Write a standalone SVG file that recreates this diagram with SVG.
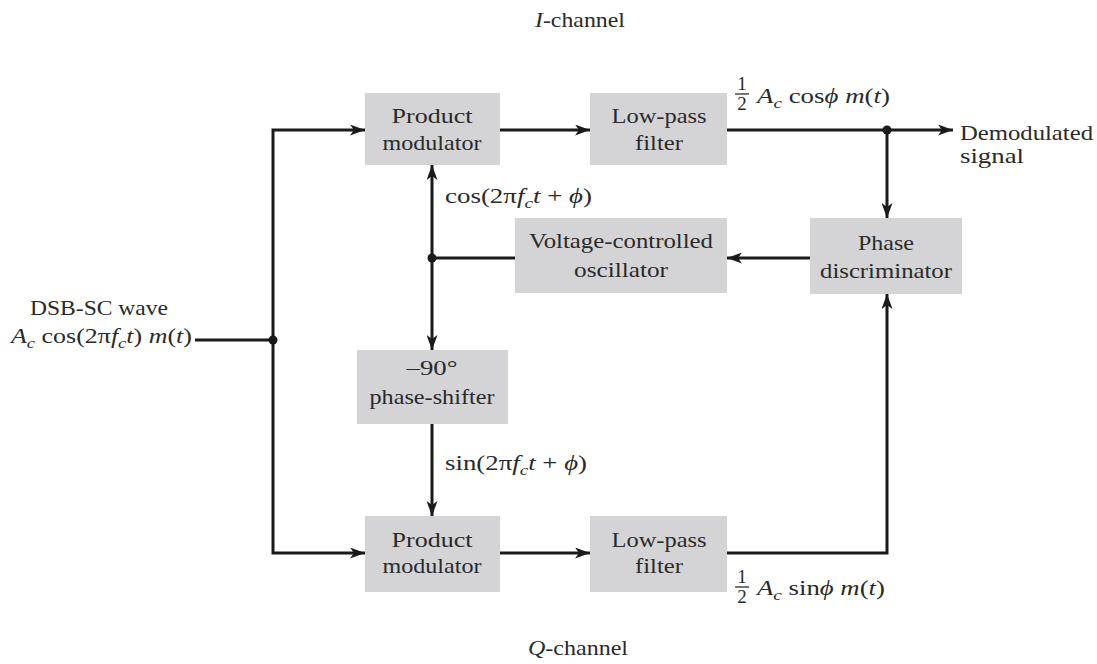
<svg xmlns="http://www.w3.org/2000/svg" width="1097" height="664" viewBox="0 0 1097 664">
<style>
  .box { fill: #d4d4d6; stroke: none; }
  .t { font-family: "Times New Roman", "Liberation Serif", Tinos, Times, serif; font-size: 21px; fill: #2a2a2a; }
  .c { text-anchor: middle; }
  .i { font-style: italic; }
  .sub { font-size: 15px; font-style: italic; }
  .frac { font-family: "Times New Roman", "Liberation Serif", Tinos, Times, serif; font-size: 19px; fill: #2a2a2a; text-anchor: middle; }
  .wire { fill: none; stroke: #1a1a1a; stroke-width: 3; }
  .arrow { marker-end: url(#ah); }
  .dot { fill: #1a1a1a; }
</style>
<defs>
  <marker id="ah" viewBox="0 0 15 11" refX="15" refY="5.5" markerWidth="15" markerHeight="11" markerUnits="userSpaceOnUse" orient="auto">
    <path d="M0,0 L15,5.5 L0,11 L4,5.5 z" fill="#1a1a1a"/>
  </marker>
</defs>
<rect width="1097" height="664" fill="#ffffff"/>

<g id="connectors">
  <path class="wire" d="M195,340 H273"/>
  <path class="wire arrow" d="M273,340 V130 H365"/>
  <path class="wire arrow" d="M273,340 V553 H365"/>
  <path class="wire arrow" d="M500,130 H590"/>
  <path class="wire arrow" d="M727,130 H953"/>
  <path class="wire arrow" d="M887,130 V218"/>
  <path class="wire arrow" d="M810,258 H727"/>
  <path class="wire" d="M515,258 H432"/>
  <path class="wire arrow" d="M432,258 V165"/>
  <path class="wire arrow" d="M432,258 V350"/>
  <path class="wire arrow" d="M432,424 V516"/>
  <path class="wire arrow" d="M500,553 H590"/>
  <path class="wire arrow" d="M727,553 H887 V294"/>
  <circle class="dot" cx="273" cy="340" r="4.5"/>
  <circle class="dot" cx="432" cy="258" r="4.5"/>
  <circle class="dot" cx="887" cy="130" r="4.5"/>
</g>

<g id="pm_top">
  <rect class="box" x="365" y="93" width="135" height="72"/>
  <text class="t c" x="432" y="123" textLength="81" lengthAdjust="spacingAndGlyphs">Product</text>
  <text class="t c" x="432" y="150" textLength="99" lengthAdjust="spacingAndGlyphs">modulator</text>
</g>
<g id="lpf_top">
  <rect class="box" x="590" y="93" width="137" height="72"/>
  <text class="t c" x="659" y="123" textLength="95" lengthAdjust="spacingAndGlyphs">Low-pass</text>
  <text class="t c" x="659" y="150" textLength="48" lengthAdjust="spacingAndGlyphs">filter</text>
</g>
<g id="phase_disc">
  <rect class="box" x="810" y="218" width="152" height="76"/>
  <text class="t c" x="886" y="250" textLength="56" lengthAdjust="spacingAndGlyphs">Phase</text>
  <text class="t c" x="886" y="278" textLength="132" lengthAdjust="spacingAndGlyphs">discriminator</text>
</g>
<g id="vco">
  <rect class="box" x="515" y="218" width="212" height="75"/>
  <text class="t c" x="621" y="248" textLength="184" lengthAdjust="spacingAndGlyphs">Voltage-controlled</text>
  <text class="t c" x="621" y="277" textLength="94" lengthAdjust="spacingAndGlyphs">oscillator</text>
</g>
<g id="phase_shifter">
  <rect class="box" x="357" y="350" width="151" height="74"/>
  <text class="t c" x="432" y="375" textLength="51" lengthAdjust="spacingAndGlyphs">–90°</text>
  <text class="t c" x="432" y="404" textLength="125" lengthAdjust="spacingAndGlyphs">phase-shifter</text>
</g>
<g id="pm_bottom">
  <rect class="box" x="365" y="516" width="135" height="76"/>
  <text class="t c" x="432" y="547" textLength="81" lengthAdjust="spacingAndGlyphs">Product</text>
  <text class="t c" x="432" y="573" textLength="99" lengthAdjust="spacingAndGlyphs">modulator</text>
</g>
<g id="lpf_bottom">
  <rect class="box" x="590" y="516" width="137" height="76"/>
  <text class="t c" x="659" y="547" textLength="95" lengthAdjust="spacingAndGlyphs">Low-pass</text>
  <text class="t c" x="659" y="573" textLength="48" lengthAdjust="spacingAndGlyphs">filter</text>
</g>

<g id="labels">
  <text class="t" x="535" y="27" textLength="90" lengthAdjust="spacingAndGlyphs"><tspan class="i">I</tspan>-channel</text>
  <text class="t" x="528" y="655" textLength="100" lengthAdjust="spacingAndGlyphs"><tspan class="i">Q</tspan>-channel</text>

  <text class="t c" x="99" y="315" textLength="138" lengthAdjust="spacingAndGlyphs">DSB-SC wave</text>
  <text class="t" x="11" y="343" textLength="181" lengthAdjust="spacingAndGlyphs"><tspan class="i">A</tspan><tspan class="sub" dy="5">c</tspan><tspan dy="-5"> cos(2π</tspan><tspan class="i">f</tspan><tspan class="sub" dy="5">c</tspan><tspan class="i" dy="-5">t</tspan>) <tspan class="i">m</tspan>(<tspan class="i">t</tspan>)</text>

  <text class="t" x="445" y="203" textLength="147" lengthAdjust="spacingAndGlyphs">cos(2π<tspan class="i">f</tspan><tspan class="sub" dy="5">c</tspan><tspan class="i" dy="-5">t</tspan> + <tspan class="i">ϕ</tspan>)</text>
  <text class="t" x="445" y="470" textLength="142" lengthAdjust="spacingAndGlyphs">sin(2π<tspan class="i">f</tspan><tspan class="sub" dy="5">c</tspan><tspan class="i" dy="-5">t</tspan> + <tspan class="i">ϕ</tspan>)</text>

  <text class="frac" x="742" y="90">1</text>
  <line x1="735" y1="94" x2="749" y2="94" stroke="#2a2a2a" stroke-width="1.3"/>
  <text class="frac" x="742" y="110">2</text>
  <text class="t" x="757" y="103" textLength="133" lengthAdjust="spacingAndGlyphs"><tspan class="i">A</tspan><tspan class="sub" dy="5">c</tspan><tspan dy="-5"> cos</tspan><tspan class="i">ϕ</tspan> <tspan class="i">m</tspan>(<tspan class="i">t</tspan>)</text>

  <text class="frac" x="742" y="583">1</text>
  <line x1="735" y1="587" x2="749" y2="587" stroke="#2a2a2a" stroke-width="1.3"/>
  <text class="frac" x="742" y="603">2</text>
  <text class="t" x="757" y="595" textLength="128" lengthAdjust="spacingAndGlyphs"><tspan class="i">A</tspan><tspan class="sub" dy="5">c</tspan><tspan dy="-5"> sin</tspan><tspan class="i">ϕ</tspan> <tspan class="i">m</tspan>(<tspan class="i">t</tspan>)</text>

  <text class="t" x="960" y="140" textLength="133" lengthAdjust="spacingAndGlyphs">Demodulated</text>
  <text class="t" x="960" y="163" textLength="64" lengthAdjust="spacingAndGlyphs">signal</text>
</g>
</svg>
